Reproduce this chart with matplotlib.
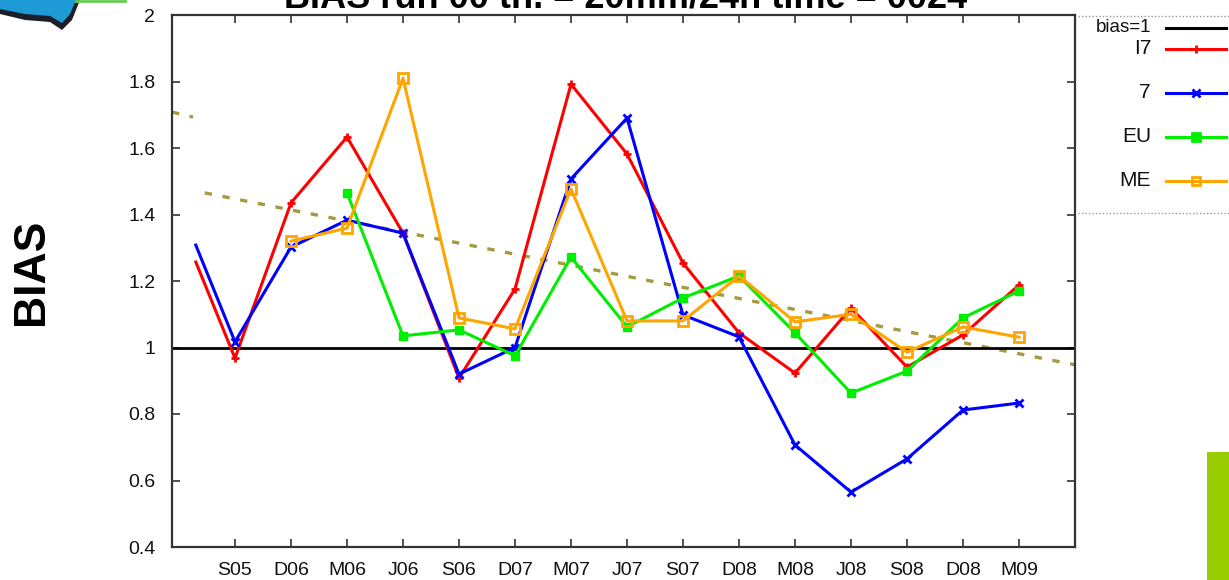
import matplotlib
matplotlib.use("Agg")
import matplotlib.pyplot as plt
from matplotlib.lines import Line2D
from matplotlib.patches import Polygon, Rectangle

plt.rcParams['font.family'] = ['Liberation Sans', 'DejaVu Sans']

# --- Daten ---
months = ['S05', 'D06', 'M06', 'J06', 'S06', 'D07', 'M07', 'J07',
          'S07', 'D08', 'M08', 'J08', 'S08', 'D08', 'M09']

# erster Wert liegt vor S05 (ohne Marker)
x_i7 = [-0.7, 0, 1, 2, 3, 4, 5, 6, 7, 8, 9, 10, 11, 12, 13, 14]
bias_i7 = [1.257, 0.968, 1.435, 1.633, 1.344, 0.908, 1.176, 1.792, 1.582,
           1.254, 1.044, 0.923, 1.119, 0.941, 1.038, 1.188]

x_7 = [-0.7, 0, 1, 2, 3, 4, 5, 6, 7, 8, 9, 10, 11, 12, 13, 14]
bias_7 = [1.308, 1.017, 1.302, 1.383, 1.344, 0.920, 1.000, 1.507, 1.690,
          1.098, 1.032, 0.707, 0.565, 0.665, 0.812, 0.833]

x_eu = [2, 3, 4, 5, 6, 7, 8, 9, 10, 11, 12, 13, 14]
bias_eu = [1.465, 1.035, 1.053, 0.975, 1.272, 1.062, 1.149, 1.215,
           1.044, 0.863, 0.929, 1.089, 1.170]

x_me = [1, 2, 3, 4, 5, 6, 7, 8, 9, 10, 11, 12, 13, 14]
bias_me = [1.320, 1.359, 1.810, 1.089, 1.056, 1.477, 1.080, 1.080,
           1.215, 1.077, 1.100, 0.986, 1.062, 1.031]

# Trendlinien (Endpunkte)
trend_x = [-0.54, 15.0]
trend_y = [1.465, 0.948]
trend2_x = [-1.125, -0.75]
trend2_y = [1.708, 1.693]

# --- Plot ---
fig = plt.figure(figsize=(12.29, 5.80), dpi=100)
W, H = 1229, 580
ax = fig.add_axes([172 / W, (H - 547) / H, (1075 - 172) / W, (547 - 15) / H])

ax.axhline(1, color='black', lw=2.0, zorder=2)

dash = dict(color='#a39b3e', lw=2.4, ls=(0, (2.2, 3.2)), zorder=1)
ax.plot(trend_x, trend_y, **dash)
ax.plot(trend2_x, trend2_y, **dash)

lw = 2.2
ax.plot(x_i7, bias_i7, color='#ff0000', lw=lw, marker='+', ms=6, mew=2,
        markevery=list(range(1, len(x_i7))), zorder=3)
ax.plot(x_7, bias_7, color='#0000ff', lw=lw, marker='x', ms=6, mew=2,
        markevery=list(range(1, len(x_7))), zorder=3)
ax.plot(x_eu, bias_eu, color='#00ee00', lw=lw, marker='s', ms=5.5, zorder=3)
ax.plot(x_me, bias_me, color='#ffa500', lw=lw, marker='s', ms=7,
        mfc='none', mew=2, zorder=3)

ax.set_xlim(-1.125, 15.0)
ax.set_ylim(0.4, 2.0)
ax.set_xticks(range(len(months)))
ax.set_xticklabels(months)
ax.set_yticks([0.4, 0.6, 0.8, 1.0, 1.2, 1.4, 1.6, 1.8, 2.0])
ax.set_yticklabels(['0.4', '0.6', '0.8', '1', '1.2', '1.4', '1.6', '1.8', '2'])
ax.tick_params(direction='in', length=6, width=1.2, top=True, right=True,
               labelsize=14, colors='#333333', labelcolor='#111111', pad=12)
ax.tick_params(axis='x', pad=11)
for s in ax.spines.values():
    s.set_color('#333333')
    s.set_linewidth(1.6)

fig.text(31 / W, 1 - 272 / H, 'BIAS', rotation=90, fontsize=32,
         fontweight='bold', ha='center', va='center')

# Titel (oben angeschnitten)
fig.text(626 / W, 1 - 7 / H, 'BIAS run 00 th. = 20mm/24h time = 0024',
         fontsize=26, fontweight='bold', ha='center', va='baseline')

# --- Legende rechts ---
leg_labels = ['bias=1', 'I7', '7', 'EU', 'ME']
leg_colors = ['black', '#ff0000', '#0000ff', '#00ee00', '#ffa500']
leg_markers = [None, '+', 'x', 's', 's']
leg_rows = [28, 49, 93, 137, 181]
for lab, col, mk, yy in zip(leg_labels, leg_colors, leg_markers, leg_rows):
    yf = 1 - yy / H
    fig.text(1151 / W, yf, lab, fontsize=15 if lab != 'bias=1' else 13.5,
             ha='right', va='center', color='#111111')
    fig.add_artist(Line2D([1166 / W, 1226 / W], [yf, yf], color=col, lw=lw,
                          transform=fig.transFigure))
    if mk is not None:
        mfc = 'none' if lab == 'ME' else col
        fig.add_artist(Line2D([1196 / W], [yf], color=col, marker=mk, ms=6,
                              mew=2, mfc=mfc, transform=fig.transFigure))
for yy in [16, 213]:
    fig.add_artist(Line2D([1078 / W, 1], [1 - yy / H] * 2, color='#999999',
                          lw=1, ls=(0, (1, 1.5)), transform=fig.transFigure))

# Logo oben links und gruener Balken unten rechts
shadow = Polygon([[0, 1 - 14 / H], [25 / W, 1 - 20 / H], [50 / W, 1 - 22 / H],
                  [62 / W, 1 - 30 / H], [72 / W, 1 - 20 / H], [80 / W, 1],
                  [0, 1]],
                 closed=True, facecolor='#1a1f2a', edgecolor='none',
                 transform=fig.transFigure)
fig.add_artist(shadow)
logo = Polygon([[0, 1 - 9 / H], [25 / W, 1 - 14 / H], [50 / W, 1 - 16 / H],
                [62 / W, 1 - 23 / H], [70 / W, 1 - 14 / H], [76 / W, 1],
                [0, 1]],
               closed=True, facecolor='#1e9ad6', edgecolor='none',
               transform=fig.transFigure)
fig.add_artist(logo)
fig.add_artist(Line2D([76 / W, 125 / W], [1 - 1 / H] * 2, color='#66cc55',
                      lw=2, transform=fig.transFigure))
fig.add_artist(Rectangle((1207 / W, 0), 22 / W, (580 - 452) / H,
                         facecolor='#99cc00', edgecolor='none',
                         transform=fig.transFigure))

fig.savefig('out.png', dpi=100)
